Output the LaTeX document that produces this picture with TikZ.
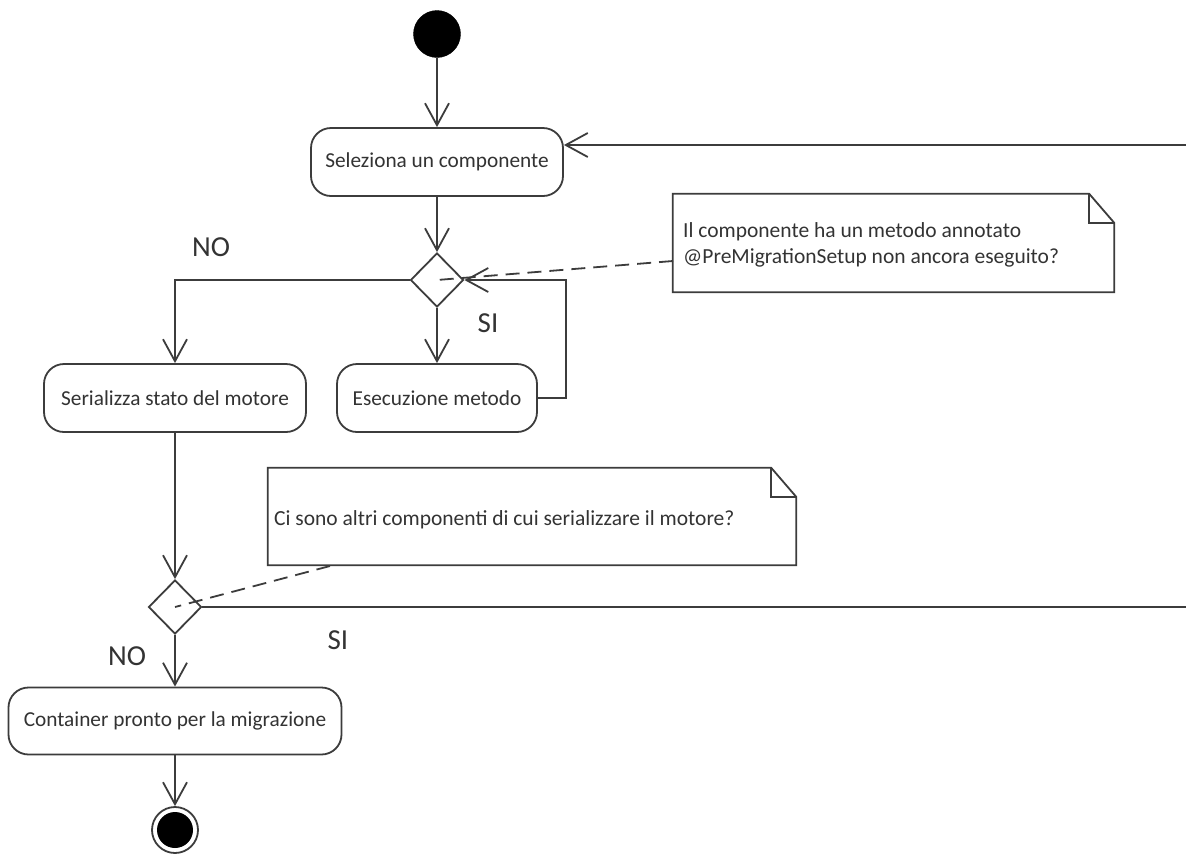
\documentclass[tikz,border=0pt]{standalone}
\usepackage{fontspec}
\setmainfont{Carlito}
\usetikzlibrary{arrows.meta,shapes.geometric,calc}
\definecolor{ln}{HTML}{3C3C3C}
\definecolor{tx}{HTML}{333333}
\begin{document}
\begin{tikzpicture}[x=1pt,y=-1pt,
  every node/.style={text=tx},
  conn/.style={draw=ln,line width=1.8pt},
  arr/.style={conn,-{Straight Barb[length=22pt,width=24pt,line width=1.8pt]}},
  dsh/.style={draw=ln,line width=1.8pt,dash pattern=on 14pt off 8pt},
  act/.style={draw=ln,line width=1.8pt,rounded corners=20pt,minimum height=68pt,inner sep=0pt,font=\fontsize{21.3}{25}\selectfont},
  dec/.style={draw=ln,line width=1.8pt,diamond,inner sep=0pt,minimum width=53pt,minimum height=54pt},
  notebox/.style={inner sep=0pt},
  notetext/.style={anchor=west,align=left,inner sep=0pt,font=\fontsize{21.5}{26}\selectfont},
  lbl/.style={font=\fontsize{29}{32}\selectfont,inner sep=0pt}]
\clip (0,0) rectangle (1186,855);
\fill[white] (0,0) rectangle (1186,855);

% nodes
\node[circle,fill=black,draw=black,minimum size=47pt,inner sep=0pt] (start) at (437,34) {};
\node[act,minimum width=252pt] (sel) at (437,162) {Seleziona un componente};
\node[dec] (d1) at (437,280) {};
\node[act,minimum width=262pt] (ser) at (175,398) {Serializza stato del motore};
\node[act,minimum width=200pt] (ese) at (437,398) {Esecuzione metodo};
\node[dec] (d2) at (175,607) {};
\node[act,minimum width=333pt,minimum height=67pt] (cont) at (175,721) {Container pronto per la migrazione};
\node[circle,draw=ln,line width=1.8pt,minimum size=46pt,inner sep=0pt] (end) at (175,830) {};
\node[circle,fill=black,minimum size=36pt,inner sep=0pt] (endin) at (175,830) {};

% notes
\node[notebox,minimum width=441pt,minimum height=98pt] (n1) at (893.5,243) {};
\draw[conn,line join=miter] (n1.north west) -- ($(n1.north east)+(-25,0)$) -- ($(n1.north east)+(0,29)$) -- (n1.south east) -- (n1.south west) -- cycle;
\draw[conn] ($(n1.north east)+(-25,0)$) -- ($(n1.north east)+(-25,29)$) -- ($(n1.north east)+(0,29)$);
\node[notetext] (t1) at (683,245) {Il componente ha un metodo annotato\\@PreMigrationSetup non ancora eseguito?};

\node[notebox,minimum width=528pt,minimum height=97pt] (n2) at (532,516.5) {};
\draw[conn,line join=miter] (n2.north west) -- ($(n2.north east)+(-25,0)$) -- ($(n2.north east)+(0,29)$) -- (n2.south east) -- (n2.south west) -- cycle;
\draw[conn] ($(n2.north east)+(-25,0)$) -- ($(n2.north east)+(-25,29)$) -- ($(n2.north east)+(0,29)$);
\node[notetext] (t2) at (274,520) {Ci sono altri componenti di cui serializzare il motore?};

% labels
\node[lbl] (no1) at (211,247) {NO};
\node[lbl] (si1) at (488,323) {SI};
\node[lbl] (si2) at (338,640) {SI};
\node[lbl] (no2) at (127,656) {NO};

% loop-back coordinates (outside the visible frame)
\coordinate (r1) at (1200,145);
\coordinate (r2) at (1200,607);
\coordinate (n1tick) at (673,261);
\coordinate (n2tick) at (330,566);

% connectors
\draw[arr] (start) -- (sel);
\draw[arr] (sel) -- (d1);
\draw[arr] (d1.west) -| (ser.north);
\draw[arr] (d1.south) -- (ese.north);
\draw[arr] (ese.east) -- ++(28,0) |- (d1.east);
\draw[dsh] (n1tick) -- (d1.center);
\draw[arr] (ser.south) -- (d2.north);
\draw[arr] (d2.south) -- (cont.north);
\draw[arr] (cont.south) -- (end.north);
\draw[dsh] (n2tick) -- (d2.center);
\draw[conn] (d2.east) -- (r2) -- (r1);
\draw[arr] (r1) -- (r1 -| sel.east);
\end{tikzpicture}
\end{document}
